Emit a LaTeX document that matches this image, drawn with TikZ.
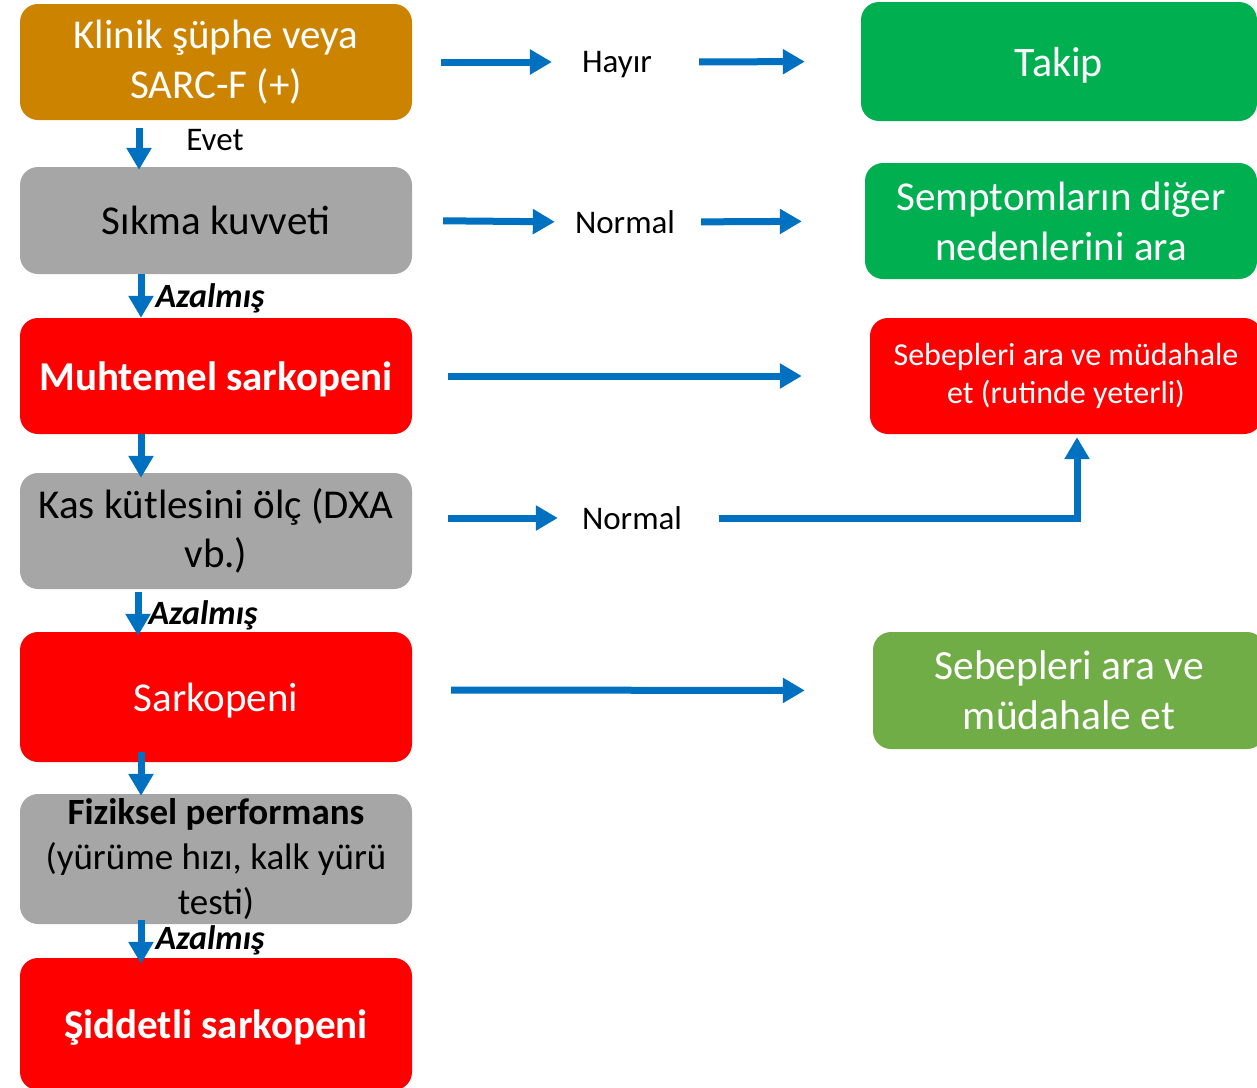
\documentclass[tikz,border=0pt]{standalone}
\usepackage{fontspec}
\setmainfont{Carlito}
\usetikzlibrary{arrows.meta}
\definecolor{kturuncu}{HTML}{CC8400}
\definecolor{kgri}{HTML}{A6A6A6}
\definecolor{kkirmizi}{HTML}{FF0000}
\definecolor{kyesil}{HTML}{00B050}
\definecolor{kacikyesil}{HTML}{70AD47}
\definecolor{kmavi}{HTML}{0070C0}

\begin{document}
\begin{tikzpicture}[%
      x=1pt, y=-1pt,
      kutu/.style={rounded corners=18pt, inner sep=0pt, align=center, text=white,
        minimum width=392pt, minimum height=116pt},
      tek/.style={text depth=0pt},
      ok/.style={color=kmavi, line width=7pt, -{Triangle[length=22pt,width=24pt]}},
      etiket/.style={inner sep=0pt, text depth=0pt, font=\fontsize{33}{40}\selectfont},
      karar/.style={inner sep=0pt, font=\fontsize{34}{40}\selectfont\bfseries\itshape},
      ]
      \useasboundingbox (0,0) rectangle (1257,1087);
      \clip (0,0) rectangle (1257,1087);

      \node [kutu, fill=kturuncu, font=\fontsize{41}{50}\selectfont] (klinik) at (216,62) {Klinik şüphe veya\\SARC-F (+)};
      \node [kutu, tek, fill=kgri, text=black, minimum height=107pt, font=\fontsize{41}{49}\selectfont] (sikma) at (216,220.5) {Sıkma kuvveti};
      \node [kutu, tek, fill=kkirmizi, font=\fontsize{41}{49}\selectfont\bfseries] (muhtemel) at (216,376) {Muhtemel sarkopeni};
      \node [kutu, fill=kgri, text=black, font=\fontsize{41}{49}\selectfont] (kas) at (216,531) {Kas kütlesini ölç (DXA\\vb.)};
      \node [kutu, tek, fill=kkirmizi, minimum height=130pt, font=\fontsize{41}{49}\selectfont] (sarkopeni) at (216,697) {Sarkopeni};
      \node [kutu, fill=kgri, text=black, minimum height=130pt, font=\fontsize{37}{45}\selectfont] (fiziksel) at (216,859) {\textbf{Fiziksel performans}\\(yürüme hızı, kalk yürü\\testi)};
      \node [kutu, tek, fill=kkirmizi, minimum height=132pt, font=\fontsize{41}{49}\selectfont\bfseries] (siddetli) at (216,1024) {Şiddetli sarkopeni};

      \node [kutu, tek, fill=kyesil, minimum width=396pt, minimum height=119pt, font=\fontsize{42}{50}\selectfont] (takip) at (1059,61.5) {Takip};
      \node [kutu, fill=kyesil, font=\fontsize{41}{50}\selectfont] (semptom) at (1061,221) {Semptomların diğer\\nedenlerini ara};
      \node [kutu, fill=kkirmizi, font=\fontsize{32}{38}\selectfont] (sebepkirmizi) at (1066,376) {Sebepleri ara ve müdahale\\et (rutinde yeterli)};
      \node [kutu, fill=kacikyesil, minimum height=117pt, font=\fontsize{41.5}{50}\selectfont] (sebepyesil) at (1069,690.5) {Sebepleri ara ve\\müdahale et};

      \node [etiket] (hayir) at (617,62) {Hayır};
      \node [etiket] (normalbir) at (625,222) {Normal};
      \node [etiket] (normaliki) at (632,518) {Normal};
      \node [etiket] (evet) at (215,140) {Evet};
      \node [karar] (azalbir) at (210,298) {Azalmış};
      \node [karar] (azaliki) at (203,615) {Azalmış};
      \node [karar] (azaluc) at (210,940) {Azalmış};

      \draw [ok, shorten <=29pt, shorten >=30pt] (klinik.east) -- (hayir.west);
      \draw [ok, shorten <=47pt, shorten >=56pt] (hayir.east) -- (takip.west);
      \draw [ok, shorten <=31pt, shorten >=20pt] (sikma.east) -- (normalbir.west);
      \draw [ok, shorten <=26pt, shorten >=63pt] (normalbir.east) -- (semptom.west);
      \draw [ok, shorten <=36pt, shorten >=68pt] (muhtemel.east) -- (sebepkirmizi.west);
      \draw [ok, shorten <=36pt, shorten >=24pt] ([yshift=13pt]kas.east) -- (normaliki.west);
      \draw [ok, shorten <=37pt, shorten >=3pt] (normaliki.east) -| ([xshift=11pt]sebepkirmizi.south);
      \draw [ok, shorten <=39pt, shorten >=68pt] ([yshift=7pt]sarkopeni.east) -- (sebepyesil.west);

      \draw [ok, shorten <=8pt, shorten >=-3pt] ([xshift=-77pt]klinik.south) -- ([xshift=-77pt]sikma.north);
      \draw [ok] ([xshift=-75pt]sikma.south) -- ([xshift=-75pt]muhtemel.north);
      \draw [ok, shorten >=-5pt] ([xshift=-75pt]muhtemel.south) -- ([xshift=-75pt]kas.north);
      \draw [ok, shorten <=3pt, shorten >=-4pt] ([xshift=-78pt]kas.south) -- ([xshift=-78pt]sarkopeni.north);
      \draw [ok, shorten <=-10pt, shorten >=-2pt] ([xshift=-75pt]sarkopeni.south) -- ([xshift=-75pt]fiziksel.north);
      \draw [ok, shorten <=-4pt, shorten >=-6pt] ([xshift=-75pt]fiziksel.south) -- ([xshift=-75pt]siddetli.north);
\end{tikzpicture}
\end{document}
